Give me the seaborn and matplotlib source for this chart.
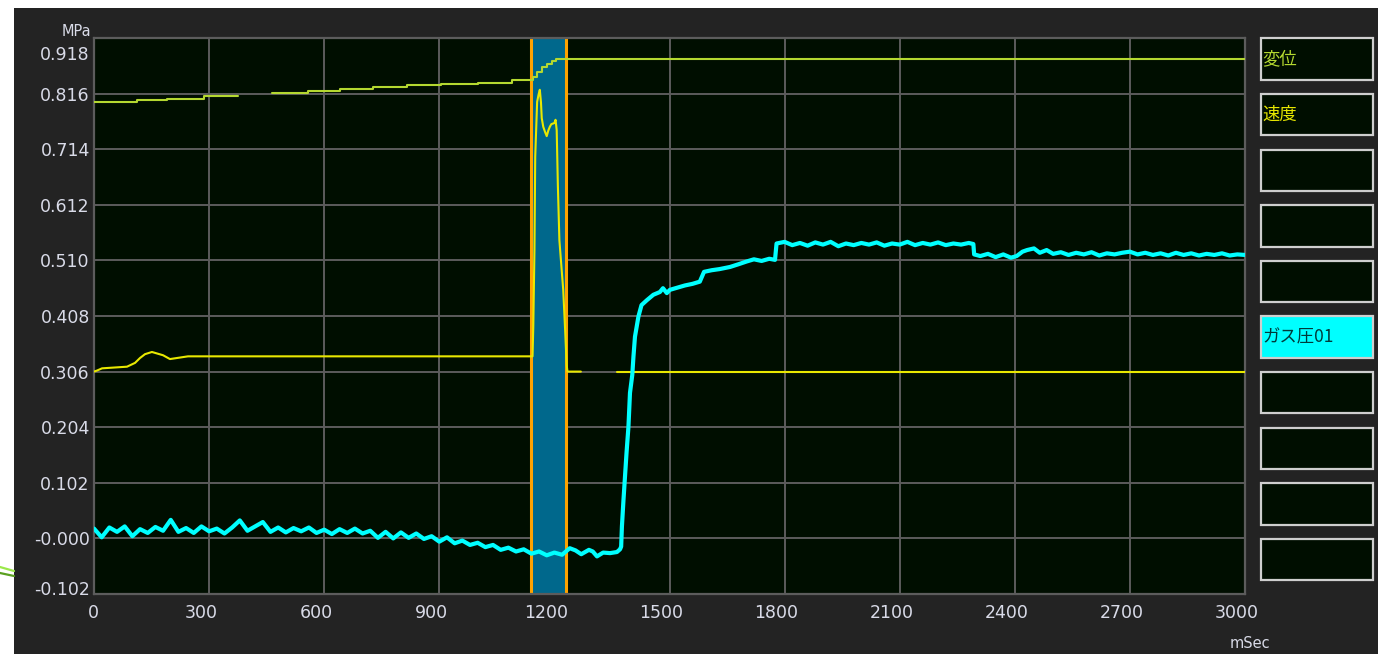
import numpy as np
import pandas as pd
import matplotlib
matplotlib.use("Agg")
import matplotlib.pyplot as plt
import matplotlib.transforms as mtransforms
from matplotlib.patches import Rectangle
from matplotlib.lines import Line2D
import seaborn as sns

# ---------------- data ----------------
x_ticks = [0, 300, 600, 900, 1200, 1500, 1800, 2100, 2400, 2700, 3000]
y_ticks = [-0.102, 0.0, 0.102, 0.204, 0.306, 0.408, 0.510, 0.612, 0.714, 0.816, 0.918]
y_tick_labels = ["-0.102", "-0.000", "0.102", "0.204", "0.306", "0.408",
                 "0.510", "0.612", "0.714", "0.816", "0.918"]

# displacement (変位), stepped, with a gap
disp_t = [0, 111, 189, 287, 375, 376,
          463, 558, 641, 727, 815, 905, 1000, 1090, 1145, 1154, 1167, 1180, 1193, 1204, 1215, 3000]
disp_v = [0.801, 0.804, 0.807, 0.811, 0.811, np.nan,
          0.818, 0.821, 0.824, 0.828, 0.831, 0.833, 0.836, 0.841, 0.847, 0.856, 0.864, 0.870, 0.875, 0.879, 0.879, 0.879]

# speed (速度)
speed_t = [0, 8, 21, 86, 107, 120, 133, 151, 180, 198, 245, 1143, 1145, 1148, 1150, 1155, 1159, 1162,
           1165, 1167, 1171, 1176, 1180, 1184, 1188, 1192, 1200, 1203, 1206, 1209, 1213, 1219, 1223,
           1228, 1232, 1234, 1269, 1270, 1363, 3000]
speed_v = [0.306, 0.308, 0.312, 0.315, 0.322, 0.331, 0.338, 0.342, 0.336, 0.329, 0.334, 0.334, 0.390, 0.529,
           0.700, 0.801, 0.815, 0.823, 0.800, 0.771, 0.755, 0.745, 0.738, 0.748, 0.755, 0.760, 0.762, 0.768,
           0.749, 0.648, 0.547, 0.492, 0.456, 0.382, 0.318, 0.306, 0.306, np.nan, 0.306, 0.306]

# gas pressure (ガス圧01)
gas_t = [0, 20, 40, 60, 80, 100, 120, 140, 160, 180, 200, 220, 240, 260, 280, 300, 320, 340, 360, 380,
         400, 420, 440, 460, 480, 500, 520, 540, 560, 580, 600, 620, 640, 660, 680, 700, 720, 740, 760,
         780, 800, 820, 840, 860, 880, 900, 920, 940, 960, 980, 1000, 1020, 1040, 1060, 1080, 1100,
         1120, 1140, 1160, 1180, 1200, 1220, 1240, 1255, 1270, 1290, 1300, 1311, 1327, 1345, 1363, 1371,
         1374, 1376, 1380, 1384, 1388, 1393, 1397, 1403, 1406, 1410, 1419, 1427, 1441, 1458, 1475, 1483,
         1493, 1501, 1520, 1540, 1560, 1579, 1590, 1610, 1630, 1658, 1680, 1701, 1720, 1740, 1760, 1775,
         1779, 1800, 1820, 1840, 1860, 1880, 1900, 1920, 1940, 1960, 1980, 2000, 2020, 2040, 2060, 2080,
         2100, 2120, 2140, 2160, 2180, 2200, 2220, 2240, 2260, 2280, 2292, 2294, 2310, 2330, 2350, 2370,
         2390, 2405, 2420, 2432, 2450, 2465, 2483, 2500, 2520, 2540, 2560, 2580, 2600, 2620, 2640, 2660,
         2680, 2700, 2720, 2740, 2760, 2780, 2800, 2820, 2840, 2860, 2880, 2900, 2920, 2940, 2960, 2980, 3000]
gas_v = [0.018, 0.002, 0.020, 0.012, 0.022, 0.004, 0.017, 0.010, 0.021, 0.014, 0.034, 0.012, 0.019, 0.010,
         0.022, 0.013, 0.018, 0.009, 0.020, 0.033, 0.014, 0.022, 0.030, 0.012, 0.020, 0.011, 0.019, 0.013,
         0.020, 0.010, 0.016, 0.008, 0.017, 0.010, 0.018, 0.009, 0.014, 0.001, 0.012, 0.000, 0.011, 0.001,
         0.009, -0.001, 0.004, -0.006, 0.002, -0.009, -0.004, -0.012, -0.008, -0.016, -0.012, -0.021,
         -0.017, -0.024, -0.020, -0.028, -0.024, -0.031, -0.026, -0.030, -0.018, -0.022, -0.029, -0.021,
         -0.024, -0.033, -0.026, -0.027, -0.025, -0.020,
         -0.015, 0.022, 0.070, 0.113, 0.157, 0.205, 0.267, 0.300, 0.333, 0.370, 0.407, 0.428, 0.437, 0.447,
         0.452, 0.459, 0.450, 0.456, 0.460, 0.464, 0.467, 0.471, 0.489, 0.492, 0.494, 0.498, 0.503, 0.508,
         0.512, 0.509, 0.513, 0.511,
         0.541, 0.544, 0.538, 0.542, 0.537, 0.543, 0.539, 0.544, 0.536, 0.541, 0.538, 0.542, 0.539, 0.543,
         0.537, 0.541, 0.539, 0.544, 0.538, 0.542, 0.539, 0.543, 0.538, 0.541, 0.539, 0.542, 0.540, 0.521,
         0.518, 0.522, 0.516, 0.521, 0.515, 0.518, 0.526, 0.529, 0.532, 0.524, 0.529, 0.522, 0.525, 0.520,
         0.524, 0.521, 0.525, 0.519, 0.523, 0.521, 0.524, 0.526, 0.521, 0.524, 0.520, 0.523, 0.519, 0.524,
         0.520, 0.523, 0.519, 0.522, 0.520, 0.523, 0.519, 0.521, 0.520]

cursor_range = [1138, 1230]

legend_labels = ["変位", "速度", "", "", "", "ガス圧01", "", "", "", ""]

# ---------------- style ----------------
FIG_W, FIG_H = 1378, 654
sns.set_theme(style="dark")
plt.rcParams["font.family"] = ["DejaVu Sans", "Noto Sans CJK JP"]

BG_PLOT = "#000e00"
GRID = "#5c5c5c"
TXT = "#d9dbe8"
C_DISP = "#b4d830"
C_SPEED = "#e8e800"
C_GAS = "#00ffff"


def fx(px):
    return px / FIG_W


def fy(py):
    return 1 - py / FIG_H


def to_frame(t, v):
    t = np.asarray(t, dtype=float)
    v = np.asarray(v, dtype=float)
    seg = np.cumsum(np.isnan(v))
    df = pd.DataFrame({"t": t, "v": v, "seg": seg})
    return df.dropna()


fig = plt.figure(figsize=(FIG_W / 100, FIG_H / 100), dpi=100, facecolor="white")
fig.add_artist(Rectangle((fx(14), 0), 1 - fx(14), fy(8), transform=fig.transFigure,
                         facecolor="#232323", edgecolor="none", zorder=-10))
# stray green arrow stroke at the left edge
fig.add_artist(Line2D([fx(0), fx(14)], [fy(567), fy(571)], transform=fig.transFigure,
                      color="#9be84a", lw=1.6))
fig.add_artist(Line2D([fx(0), fx(14)], [fy(573), fy(576)], transform=fig.transFigure,
                      color="#5aa020", lw=1.6))

ax = fig.add_axes([fx(94), 1 - 594 / FIG_H, fx(1151), 556 / FIG_H])
ax.set_facecolor(BG_PLOT)

ax.axvspan(cursor_range[0], cursor_range[1], color="#00688c", zorder=1)

sns.lineplot(data=to_frame(disp_t, disp_v), x="t", y="v", units="seg", estimator=None,
             color=C_DISP, lw=1.5, drawstyle="steps-post", ax=ax, zorder=3)
sns.lineplot(data=to_frame(speed_t, speed_v), x="t", y="v", units="seg", estimator=None,
             color=C_SPEED, lw=1.5, ax=ax, zorder=3)
sns.lineplot(data=to_frame(gas_t, gas_v), x="t", y="v", units="seg", estimator=None,
             color=C_GAS, lw=3.0, ax=ax, zorder=4)

for xc in cursor_range:
    ax.axvline(xc, color="#ffa200", lw=2.2, zorder=2.5)

ax.set_xlim(0, 3000)
ax.set_ylim(-0.102, 0.918)
ax.set_xticks(x_ticks)
ax.set_xticklabels([str(v) for v in x_ticks])
ax.set_yticks(y_ticks)
ax.set_yticklabels(y_tick_labels)
ax.set_xlabel("")
ax.set_ylabel("")
ax.grid(True, color=GRID, lw=1.4)
for s in ax.spines.values():
    s.set_color(GRID)
    s.set_linewidth(1.6)
ax.tick_params(axis="both", length=0, labelsize=12.5, labelcolor=TXT)
ax.tick_params(axis="y", pad=3)
ax.tick_params(axis="x", pad=7)

# nudge edge labels like the original software
yt = ax.yaxis.get_major_ticks()
yt[0].label1.set_transform(yt[0].label1.get_transform() +
                           mtransforms.ScaledTranslation(0, 0.06, fig.dpi_scale_trans))
yt[-1].label1.set_transform(yt[-1].label1.get_transform() +
                            mtransforms.ScaledTranslation(0, -0.15, fig.dpi_scale_trans))
for i, t in enumerate(ax.xaxis.get_major_ticks()):
    dx = -0.01 if i == 0 else -0.08
    t.label1.set_transform(t.label1.get_transform() +
                           mtransforms.ScaledTranslation(dx, 0, fig.dpi_scale_trans))

fig.text(fx(76), fy(31), "MPa", ha="center", va="center", fontsize=10.5, color=TXT)
fig.text(fx(1250), fy(643), "mSec", ha="center", va="center", fontsize=10.5, color=TXT)

# channel boxes on the right
label_colors = {"変位": C_DISP, "速度": C_SPEED, "ガス圧01": "#003a3a"}
for i, lab in enumerate(legend_labels):
    top = 38.3 + i * 55.6
    face = C_GAS if lab == "ガス圧01" else BG_PLOT
    fig.add_artist(Rectangle((fx(1261), fy(top + 41.5)), fx(112), 41.5 / FIG_H,
                             transform=fig.transFigure, facecolor=face,
                             edgecolor="#cfcfcf", lw=1.6))
    if lab:
        fig.text(fx(1262), fy(top + 21), lab, ha="left", va="center", fontsize=12.5,
                 color=label_colors[lab], family=["Noto Sans CJK JP", "DejaVu Sans"])

fig.savefig("out.png", dpi=100, facecolor="white")
